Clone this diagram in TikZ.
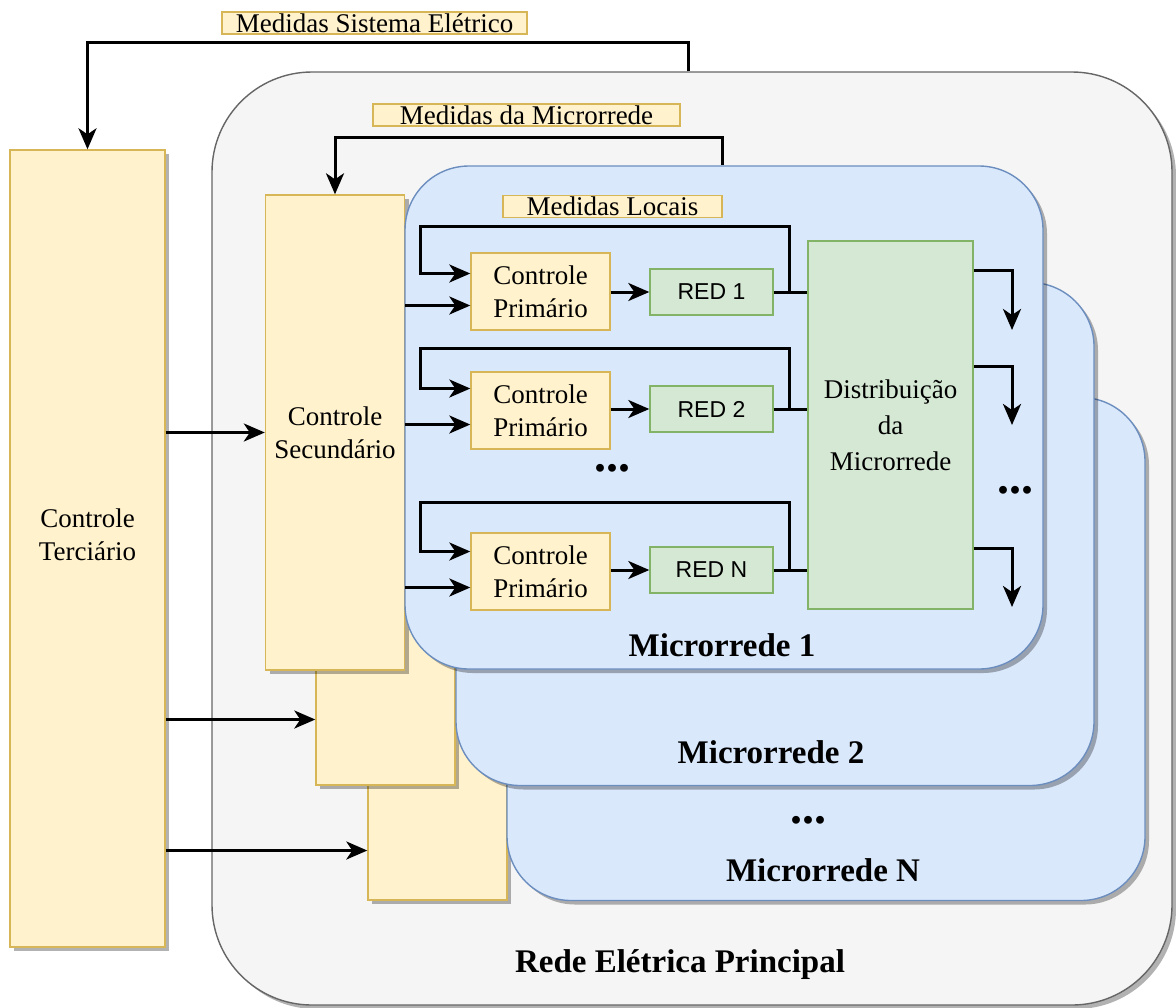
\documentclass[tikz,border=0pt]{standalone}
\usepackage{fontspec}
\setmainfont{Liberation Serif}
\newfontfamily\redfont{Liberation Sans}
\usepackage{xcolor}
\usepackage{tikz}
\usetikzlibrary{positioning, calc, arrows.meta, shadows}

\definecolor{grayfill}{HTML}{F5F5F5}
\definecolor{grayline}{HTML}{666666}
\definecolor{bluefill}{HTML}{DAE8FC}
\definecolor{blueline}{HTML}{6C8EBF}
\definecolor{yellowfill}{HTML}{FFF2CC}
\definecolor{yellowline}{HTML}{D6B656}
\definecolor{greenfill}{HTML}{D5E8D4}
\definecolor{greenline}{HTML}{82B366}

\begin{document}
\begin{tikzpicture}[x=0.5pt, y=-0.5pt,
          every node/.style={font=\rmfamily\fontsize{13.5}{16.5}\selectfont, inner sep=0pt, align=center},
          shade/.style={drop shadow={shadow xshift=2pt, shadow yshift=-2pt, opacity=0.3, fill=black}},
          gridbox/.style={draw=grayline, fill=grayfill, line width=0.7pt, rounded corners=50pt, shade},
          mgbox/.style={draw=blueline, fill=bluefill, line width=0.7pt, rounded corners=32pt, shade,
                        minimum width=319pt, minimum height=251.5pt},
          ctrlbox/.style={draw=yellowline, fill=yellowfill, line width=0.7pt},
          secbox/.style={ctrlbox, shade, minimum width=69.5pt, minimum height=237.5pt},
          primbox/.style={ctrlbox, minimum width=69.5pt, minimum height=38.5pt},
          tagbox/.style={ctrlbox, minimum height=11pt},
          greenbox/.style={draw=greenline, fill=greenfill, line width=0.7pt},
          redbox/.style={greenbox, font=\redfont\fontsize{11.5}{14}\selectfont,
                         minimum width=61.5pt, minimum height=23pt},
          title/.style={font=\rmfamily\fontsize{16.5}{20}\selectfont\bfseries},
          dots/.style={font=\rmfamily\fontsize{24}{24}\selectfont\bfseries},
          wire/.style={line width=1.5pt},
          arr/.style={line width=1.5pt, -{Stealth[length=10.5pt, width=9pt, inset=3pt]}}]
          \useasboundingbox (0,0) rectangle (1176,1007);

          % main grid and tertiary level
          \node[gridbox, minimum width=480pt, minimum height=466.5pt] (rede) at (692,538.5) {};
          \node[title] (redeLbl) at (680,965) {Rede Elétrica Principal};
          \node[ctrlbox, shade, minimum width=77.5pt, minimum height=398.5pt] (terc) at (87.5,548.5) {};
          \node (tercLbl) at (87.5,535) {Controle\\Terciário};

          % stacked microgrids, back to front
          \node[secbox] (sec3) at (437.5,662.5) {};
          \node[mgbox] (mgN) at (826,649) {};
          \node[secbox] (sec2) at (385.5,547.5) {};
          \node[mgbox] (mg2) at (775,534) {};
          \node[secbox] (sec1) at (335,432.5) {Controle\\Secundário};
          \node[mgbox] (mg1) at (724,417.5) {};

          \node[title] (mg1Lbl) at (722,645) {Microrrede 1};
          \node[title] (mg2Lbl) at (771,752) {Microrrede 2};
          \node[dots] (mgDots) at (808,820) {...};
          \node[title] (mgNLbl) at (823,870) {Microrrede N};

          % primary level
          \node[primbox] (cp1) at (540.5,291.5) {Controle\\Primário};
          \node[redbox] (red1) at (711.5,292) {RED 1};
          \node[primbox] (cp2) at (540.5,410.5) {Controle\\Primário};
          \node[redbox] (red2) at (711.5,409) {RED 2};
          \node[dots] (cpDots) at (612,468) {...};
          \node[primbox] (cpN) at (540.5,571.5) {Controle\\Primário};
          \node[redbox] (redN) at (711.5,570) {RED N};
          \node[greenbox, minimum width=82.5pt, minimum height=184pt,
                font=\rmfamily\fontsize{13.5}{18}\selectfont] (dist) at (890.5,425) {Distribuição\\da\\Microrrede};
          \node[dots] (outDots) at (1015,490) {...};

          % measurement tags
          \node[tagbox, minimum width=152.5pt] (tagSis) at (374.5,23) {Medidas Sistema Elétrico};
          \node[tagbox, minimum width=153.5pt] (tagMic) at (526.5,115) {Medidas da Microrrede};
          \node[tagbox, minimum width=109.5pt] (tagLoc) at (612.5,206.5) {Medidas Locais};

          % measurement feedback
          \coordinate (sisT) at (688,42);
          \coordinate (micT) at (722,137);
          \draw[arr] (rede.north -| sisT) -- (sisT) -| (terc.north);
          \draw[arr] (mg1.north -| micT) -- (micT) -| (sec1.north);

          \coordinate (fb1) at (789,226);
          \coordinate (fb2) at (789,348);
          \coordinate (fbN) at (789,502);
          \draw[arr] (red1.east -| fb1) -- (fb1) -| ([xshift=-25pt, yshift=9pt]cp1.west) -- ([yshift=9pt]cp1.west);
          \draw[arr] (red2.east -| fb2) -- (fb2) -| ([xshift=-25pt, yshift=11pt]cp2.west) -- ([yshift=11pt]cp2.west);
          \draw[arr] (redN.east -| fbN) -- (fbN) -| ([xshift=-25pt, yshift=10pt]cpN.west) -- ([yshift=10pt]cpN.west);

          % control signals
          \coordinate (in2) at ([yshift=-86pt]sec2.west);
          \coordinate (in3) at ([yshift=-94pt]sec3.west);
          \draw[arr] (terc.east |- sec1.west) -- (sec1.west);
          \draw[arr] (terc.east |- in2) -- (in2);
          \draw[arr] (terc.east |- in3) -- (in3);

          \draw[arr] ([yshift=-7pt]cp1.west -| sec1.east) -- ([yshift=-7pt]cp1.west);
          \draw[arr] ([yshift=-7pt]cp2.west -| sec1.east) -- ([yshift=-7pt]cp2.west);
          \draw[arr] ([yshift=-8pt]cpN.west -| sec1.east) -- ([yshift=-8pt]cpN.west);

          \draw[arr] (cp1.east |- red1.west) -- (red1.west);
          \draw[arr] (cp2.east |- red2.west) -- (red2.west);
          \draw[arr] (cpN.east |- redN.west) -- (redN.west);

          % power flow
          \draw[wire] (red1.east) -- (red1.east -| dist.west);
          \draw[wire] (red2.east) -- (red2.east -| dist.west);
          \draw[wire] (redN.east) -- (redN.east -| dist.west);

          \coordinate (out1) at (1012,330);
          \coordinate (out2) at (1012,425);
          \coordinate (outN) at (1012,607);
          \draw[arr] ([yshift=-15pt]dist.north east) -| (out1);
          \draw[arr] ([yshift=-63pt]dist.north east) -| (out2);
          \draw[arr] ([yshift=30.5pt]dist.south east) -| (outN);
        \end{tikzpicture}
\end{document}
